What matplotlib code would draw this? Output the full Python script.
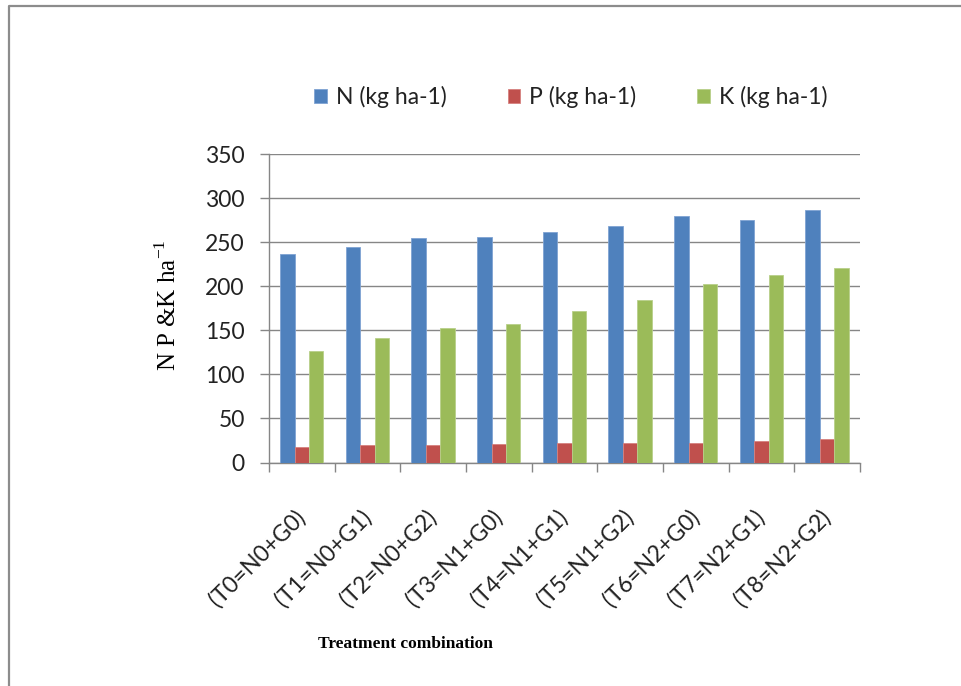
import numpy as np
import matplotlib
matplotlib.use("Agg")
import matplotlib.pyplot as plt
from matplotlib.lines import Line2D

# ------------------------------------------------------------
# Data
# ------------------------------------------------------------
treatments = ["(T0=N0+G0)", "(T1=N0+G1)", "(T2=N0+G2)", "(T3=N1+G0)", "(T4=N1+G1)",
              "(T5=N1+G2)", "(T6=N2+G0)", "(T7=N2+G1)", "(T8=N2+G2)"]
n_vals = [237, 244, 255, 256, 262, 268, 280, 275, 287]
p_vals = [18, 19.5, 19.5, 21, 22.5, 22.5, 22.5, 24, 27]
k_vals = [127, 141, 153, 157, 172, 184, 202, 213, 221]

series_names = ["N (kg ha-1)", "P (kg ha-1)", "K (kg ha-1)"]
colors = ["#4F81BD", "#C0504D", "#9BBB59"]
edges = ["#7FA3D3", "#D6817F", "#B8D08A"]

plt.rcParams['font.family'] = ['Lato', 'DejaVu Sans']
plt.rcParams['axes.unicode_minus'] = False
grey = "#868686"
fs = 16.5

fig = plt.figure(figsize=(9.61, 6.86), dpi=100)
ax = fig.add_axes([0.2799, 0.3258, 0.6150, 0.4497])

x = np.arange(len(treatments))
w = 0.22
for i, (vals, name) in enumerate(zip([n_vals, p_vals, k_vals], series_names)):
    ax.bar(x + (i - 1) * w, vals, width=w, color=colors[i], edgecolor=edges[i],
           linewidth=0.6, label=name, zorder=3)

ax.set_xlim(-0.5, len(treatments) - 0.5)
ax.set_ylim(0, 350)
ax.set_yticks(np.arange(0, 351, 50))
ax.yaxis.grid(True, color=grey, linewidth=1.0, zorder=0)

# category boundaries get the tick marks, centres get the labels
ax.set_xticks(np.arange(-0.5, len(treatments), 1.0))
ax.set_xticklabels([])
ax.set_xticks(x, treatments, minor=True)
ax.tick_params(axis='x', which='major', length=6.5, width=1, color=grey, direction='out')
ax.tick_params(axis='x', which='minor', length=0, pad=37, labelsize=fs, labelcolor="#222222")
for lab in ax.get_xticklabels(minor=True):
    lab.set_rotation(45)
    lab.set_ha('right')
    lab.set_va('center')
    lab.set_rotation_mode('anchor')
ax.tick_params(axis='y', length=6.5, width=1, color=grey, pad=11, labelsize=fs,
               labelcolor="#222222")

for s in ['top', 'right']:
    ax.spines[s].set_visible(False)
for s in ['left', 'bottom']:
    ax.spines[s].set_color(grey)
    ax.spines[s].set_linewidth(1.0)

leg = fig.legend(loc='center', bbox_to_anchor=(0.594, 0.859), ncol=3, frameon=False,
                 fontsize=fs, handlelength=0.55, handleheight=0.55, handletextpad=0.4,
                 columnspacing=2.65)
for t in leg.get_texts():
    t.set_color("#222222")

fig.text(168 / 961, 1 - 305 / 686, r"N P &K ha$^{\mathregular{-1}}$", rotation=90,
         ha='center', va='center', fontsize=18, family='Liberation Serif')
fig.text(405 / 961, 1 - 644 / 686, "Treatment combination", ha='center', va='center',
         fontsize=12.5, fontweight='bold', family='Liberation Serif')

# outer frame (top and left edges visible)
fig.add_artist(Line2D([9 / 961, 9 / 961, 1.0], [0.0, 1 - 6 / 686, 1 - 6 / 686],
                      transform=fig.transFigure, color="#8C8C8C", linewidth=1.6))

fig.savefig("out.png", dpi=100)
